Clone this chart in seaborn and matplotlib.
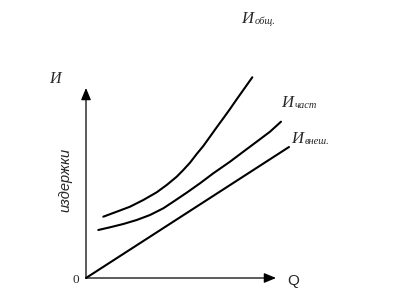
import matplotlib
matplotlib.use("Agg")
import matplotlib.pyplot as plt
import seaborn as sns
import pandas as pd

sns.set_theme(style="white")
plt.rcParams['font.family'] = ['Liberation Serif', 'DejaVu Serif']

# Curve data (Q, И)
q_total = [17.3, 30.7, 44.0, 57.3, 70.7, 80.7, 90.7, 97.3, 104.0, 110.7, 117.3,
           124.0, 130.7, 137.3, 144.0, 150.7, 157.3, 166.3]
c_total = [61.3, 66.3, 71.3, 78.0, 85.7, 93.0, 101.3, 108.0, 115.3, 124.0, 132.0,
           141.3, 150.7, 159.7, 169.0, 178.7, 188.0, 200.7]
q_part = [12.3, 24.0, 37.3, 50.7, 64.0, 77.3, 87.3, 100.7, 114.0, 127.3, 144.0,
          157.3, 170.7, 184.0, 195.0]
c_part = [48.0, 50.7, 54.0, 58.0, 63.0, 69.7, 76.3, 85.3, 94.7, 104.7, 116.3,
          126.3, 136.3, 146.3, 156.3]
q_ext = [0.0, 203.0]
c_ext = [0.0, 131.0]

labels_main = ["И", "И", "И"]
labels_sub = ["общ.", "част", "внеш."]
axis_y_label = "издержки"
axis_y_name = "И"
axis_x_name = "Q"
origin_label = "0"

df = pd.concat([
    pd.DataFrame({"Q": q_total, "C": c_total, "s": "total"}),
    pd.DataFrame({"Q": q_part, "C": c_part, "s": "part"}),
    pd.DataFrame({"Q": q_ext, "C": c_ext, "s": "ext"}),
])

fig = plt.figure(figsize=(4.02, 3.05), dpi=100)
ax = fig.add_axes([0, 0, 1, 1])
for name, g in df.groupby("s", sort=False):
    sns.lineplot(data=g, x="Q", y="C", ax=ax, color="black", lw=1.5, sort=False,
                 estimator=None, legend=False)
ax.set_xlim(-86, 316)
ax.set_ylim(-27, 278)
ax.axis("off")

# axes arrows
arrow = dict(arrowstyle="-|>,head_length=0.6,head_width=0.25", color="black", lw=0.9,
             shrinkA=0, shrinkB=0)
ax.annotate("", xy=(0, 190), xytext=(0, 0), arrowprops=arrow)
ax.annotate("", xy=(190, 0), xytext=(0, 0), arrowprops=arrow)

ax.text(-9.7, -2.3, origin_label, fontsize=9.5, ha="center", va="center")
ax.text(207, -3, axis_x_name, fontsize=11, ha="center", va="center",
        family=["Liberation Sans"])
ax.text(-30.7, 198.7, axis_y_name, fontsize=11.5, ha="center", va="center", style="italic")
ax.text(-21, 98, axis_y_label, fontsize=10.5, ha="center", va="center", rotation=90,
        style="italic", family=["Liberation Sans"])

# curve labels
main_pos = [(155, 255), (195, 171), (205, 135)]
sub_pos = [(168.5, 254), (208.5, 170), (218.5, 134)]
for (mx, my), (sx, sy), m, s in zip(main_pos, sub_pos, labels_main, labels_sub):
    ax.text(mx, my, m, fontsize=12, style="italic", ha="left", va="baseline")
    ax.text(sx, sy, s, fontsize=7.5, style="italic", ha="left", va="baseline")

fig.savefig("out.png", dpi=100)
